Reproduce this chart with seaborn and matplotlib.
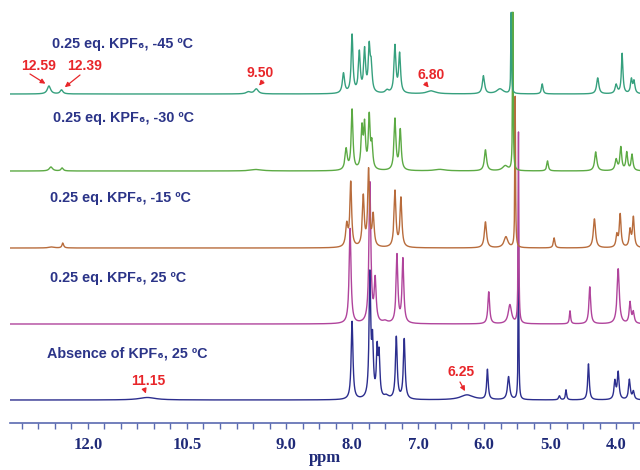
import numpy as np
import pandas as pd
import matplotlib.pyplot as plt
import matplotlib.ticker as mticker
import seaborn as sns

# peak lists: (ppm, height, half width)
peaks_m45 = [(12.59, 8, 0.03), (12.40, 4, 0.025), (9.57, 2, 0.04), (9.45, 5, 0.035),
             (8.13, 20, 0.02), (8.00, 58, 0.016), (7.89, 40, 0.017), (7.81, 42, 0.017),
             (7.74, 44, 0.017), (7.71, 24, 0.016), (7.47, 3, 0.03), (7.35, 47, 0.017),
             (7.28, 39, 0.017), (6.80, 3, 0.08), (6.01, 18, 0.02), (5.76, 5, 0.06),
             (5.59, 81, 0.006), (5.12, 10, 0.014), (4.28, 16, 0.02), (4.00, 9, 0.02),
             (3.91, 40, 0.014), (3.77, 14, 0.016), (3.73, 12, 0.016)]
peaks_m30 = [(12.56, 4, 0.03), (12.39, 3, 0.02), (9.45, 1.5, 0.1), (8.09, 21, 0.02),
             (8.00, 60, 0.016), (7.85, 40, 0.017), (7.81, 42, 0.016), (7.74, 52, 0.016),
             (7.70, 24, 0.016), (7.35, 51, 0.017), (7.27, 40, 0.017), (6.67, 1.5, 0.1),
             (5.98, 21, 0.02), (5.68, 5, 0.05), (5.565, 158, 0.006), (5.04, 10, 0.014),
             (4.31, 19, 0.02), (4.00, 11, 0.02), (3.93, 23, 0.016), (3.84, 18, 0.016),
             (3.76, 16, 0.016)]
peaks_m15 = [(12.55, 1, 0.05), (12.38, 5, 0.015), (8.08, 22, 0.02), (8.02, 64, 0.016),
             (7.83, 50, 0.017), (7.75, 76, 0.016), (7.68, 31, 0.017), (7.35, 56, 0.017),
             (7.26, 49, 0.017), (5.98, 26, 0.02), (5.67, 11, 0.035), (5.53, 151, 0.006),
             (4.94, 10, 0.014), (4.33, 29, 0.02), (3.99, 12, 0.016), (3.94, 33, 0.016),
             (3.79, 17, 0.016), (3.74, 30, 0.016)]
peaks_25 = [(8.03, 95, 0.017), (7.73, 140, 0.017), (7.65, 42, 0.017), (7.50, 2, 0.04),
            (7.32, 68, 0.016), (7.23, 64, 0.016), (5.93, 32, 0.016), (5.61, 19, 0.03),
            (5.48, 191, 0.006), (4.70, 13, 0.011), (4.40, 37, 0.016), (3.97, 55, 0.02),
            (3.79, 21, 0.016), (3.74, 11, 0.016)]
peaks_free = [(11.10, 2.5, 0.15), (8.00, 78, 0.016), (7.73, 122, 0.015), (7.69, 52, 0.015),
              (7.62, 46, 0.014), (7.59, 41, 0.014), (7.48, 3, 0.04), (7.33, 62, 0.016),
              (7.21, 60, 0.016), (6.26, 5, 0.12), (5.95, 30, 0.014), (5.63, 23, 0.02),
              (5.48, 153, 0.006), (4.86, 4, 0.014), (4.76, 10, 0.011), (4.42, 36, 0.014),
              (4.02, 18, 0.016), (3.97, 27, 0.016), (3.80, 20, 0.016), (3.74, 8, 0.016)]

labels = ['Absence of KPF₆, 25 ºC', '0.25 eq. KPF₆, 25 ºC', '0.25 eq. KPF₆, -15 ºC',
          '0.25 eq. KPF₆, -30 ºC', '0.25 eq. KPF₆, -45 ºC']
peak_sets = [peaks_free, peaks_25, peaks_m15, peaks_m30, peaks_m45]
notes = [('12.59', 12.59, 4), ('12.39', 12.40, 4), ('9.50', 9.45, 4), ('6.80', 6.80, 4),
         ('11.15', 11.10, 0), ('6.25', 6.26, 0)]

colors = ['#2c2e8e', '#b0449c', '#b86c3c', '#5caa44', '#36a07e']
offsets = [23, 99, 175, 252, 329]
label_px = [(47, 354), (50, 278), (50, 198), (53, 118), (52, 44)]
note_px = [(39, 66), (85, 66), (260, 73), (431, 75), (148, 381), (461, 372)]
tail_px = [(30, 74), (80, 75), (263, 81), (425, 83), (145, 391), (460, 382)]

ppm = np.arange(3.6, 13.25, 0.001)


def spectrum(plist):
    y = np.zeros_like(ppm)
    for c, h, w in plist:
        y += h * w ** 2 / ((ppm - c) ** 2 + w ** 2)
    return y


frames = []
for lab, pl, off in zip(labels, peak_sets, offsets):
    frames.append(pd.DataFrame({'ppm': ppm, 'intensity': spectrum(pl) + off, 'sample': lab}))
df = pd.concat(frames, ignore_index=True)

sns.set_style('white')
plt.rcParams['font.family'] = ['Liberation Sans', 'DejaVu Sans']

fig = plt.figure(figsize=(6.4, 4.7), dpi=100)
ax = fig.add_axes([10 / 640, 47 / 470, 630 / 640, 423 / 470])

sns.lineplot(data=df, x='ppm', y='intensity', hue='sample', hue_order=labels,
             palette=colors, sort=False, estimator=None, linewidth=1.0, legend=False, ax=ax)

ax.set_xlim(13.18, 3.64)
ax.set_ylim(0, 423)

navy = '#2b3488'
for lab, (px, py) in zip(labels, label_px):
    fig.text(px / 640, 1 - py / 470, lab, fontsize=10.4, fontweight='bold', color=navy,
             va='center', ha='left', family=['Liberation Sans', 'DejaVu Sans'])

red = '#e8262a'
for (txt, pk, row), (px, py), (tx, ty) in zip(notes, note_px, tail_px):
    fig.text(px / 640, 1 - py / 470, txt, ha='center', va='center', fontsize=10,
             fontweight='bold', color=red)
    yv = spectrum(peak_sets[row])[np.argmin(np.abs(ppm - pk))] + offsets[row]
    ax.annotate('', xy=(pk, yv), xycoords='data', xytext=(tx, 470 - ty),
                textcoords='figure pixels',
                arrowprops=dict(arrowstyle='-|>', color=red, lw=0.9,
                                mutation_scale=7, shrinkA=0, shrinkB=3))

for s in ['top', 'right', 'left']:
    ax.spines[s].set_visible(False)
ax.spines['bottom'].set_color('#5a6ab0')
ax.spines['bottom'].set_linewidth(1.2)
ax.set_yticks([])
ax.set_ylabel('')

ax.xaxis.set_major_locator(mticker.FixedLocator([12.0, 10.5, 9.0, 8.0, 7.0, 6.0, 5.0, 4.0]))
ax.xaxis.set_major_formatter(mticker.FormatStrFormatter('%.1f'))
ax.xaxis.set_minor_locator(mticker.MultipleLocator(0.25))
ax.tick_params(axis='x', which='both', direction='out', color='#5a6ab0', length=4,
               width=1, bottom=True, labelsize=12, labelcolor='#1f2a78', pad=6)
for t in ax.get_xticklabels():
    t.set_family('Liberation Serif')
    t.set_fontweight('bold')
ax.set_xlabel('ppm', fontsize=12, fontweight='bold', family='Liberation Serif',
              color='#1f2a78', labelpad=-2)

fig.savefig('out.png', dpi=100)
